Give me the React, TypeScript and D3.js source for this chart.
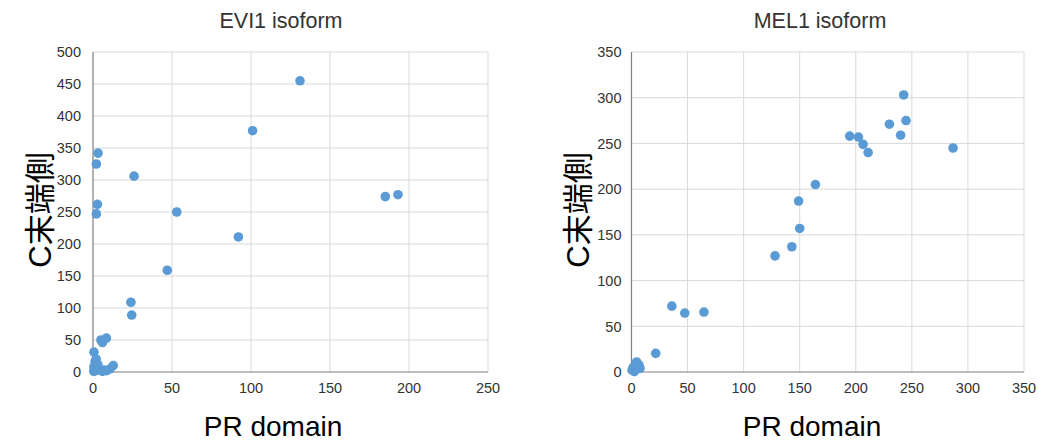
import React from "react";
import * as d3 from "d3";

const evi1PR = [131, 101, 26, 193, 185, 53, 92, 47, 24, 24.5, 3.2, 2.1, 2.8, 2.1, 8.5, 5, 6, 0.6, 12.8, 1.3, 0.6, 4.4, 8.7, 10.8, 2, 3, 1, 0.5, 6, 3.5, 7, 1.8];
const evi1C = [455, 377, 306, 277, 274, 250, 211, 159, 109, 89, 342, 325, 262, 247, 53, 50, 46, 31, 10, 16, 8, 3, 2, 5, 20, 12, 4, 1, 1, 6, 3, 2];

const mel1PR = [242.7, 244.8, 230, 240, 194.6, 202.4, 206.5, 211, 286.7, 164, 149, 150, 143, 128, 36, 47.5, 64.6, 21.6, 0.5, 4.6, 6.7, 3, 7.6, 1.5, 2.5];
const mel1C = [303, 275, 271, 259, 258, 257, 249, 240, 245, 205, 187, 157, 137, 127, 72, 64.5, 65.6, 20.4, 2, 11, 7.7, 2, 4, 5, 0.5];

const evi1XTicks = [0, 50, 100, 150, 200, 250];
const evi1YTicks = [0, 50, 100, 150, 200, 250, 300, 350, 400, 450, 500];
const mel1XTicks = [0, 50, 100, 150, 200, 250, 300, 350];
const mel1YTicks = [0, 50, 100, 150, 200, 250, 300, 350];

const titles = ["EVI1 isoform", "MEL1 isoform"];
const xTitle = "PR domain";
const yTitle = "C末端側";

const FONT = "'Liberation Sans', Arial, 'Noto Sans CJK JP', sans-serif";
const DOT = "#5b9bd5";

type PanelProps = {
  title: string;
  xs: number[];
  ys: number[];
  xTicks: number[];
  yTicks: number[];
  left: number;
  right: number;
  top: number;
  bottom: number;
  titleX: number;
  xTitleX: number;
  yTitleX: number;
  yLabelGap: number;
};

function Panel(p: PanelProps) {
  const x = d3
    .scaleLinear()
    .domain([0, p.xTicks[p.xTicks.length - 1]])
    .range([p.left, p.right]);
  const y = d3
    .scaleLinear()
    .domain([0, p.yTicks[p.yTicks.length - 1]])
    .range([p.bottom, p.top]);
  return (
    <g fontFamily={FONT}>
      {p.yTicks
        .filter((t) => t !== 0)
        .map((t) => (
          <line key={"gy" + t} x1={p.left} x2={p.right} y1={y(t)} y2={y(t)} stroke="#d9d9d9" strokeWidth={1} />
        ))}
      {p.xTicks
        .filter((t) => t !== 0)
        .map((t) => (
          <line key={"gx" + t} x1={x(t)} x2={x(t)} y1={p.top} y2={p.bottom} stroke="#d9d9d9" strokeWidth={1} />
        ))}
      <line x1={p.left} x2={p.left} y1={p.top} y2={p.bottom} stroke="#7f7f7f" strokeWidth={1.2} />
      <line x1={p.left} x2={p.right} y1={p.bottom} y2={p.bottom} stroke="#7f7f7f" strokeWidth={1.2} />
      {p.yTicks.map((t) => (
        <text key={"ty" + t} x={p.left - p.yLabelGap} y={y(t)} dy="0.36em" textAnchor="end" fontSize={14.5} fill="#333">
          {t}
        </text>
      ))}
      {p.xTicks.map((t) => (
        <text key={"tx" + t} x={x(t)} y={p.bottom + 21} textAnchor="middle" fontSize={14.5} fill="#333">
          {t}
        </text>
      ))}
      {p.xs.map((v, i) => (
        <circle key={"d" + i} cx={x(v)} cy={y(p.ys[i])} r={4.8} fill={DOT} />
      ))}
      <text x={p.titleX} y={28} textAnchor="middle" fontSize={21.5} fill="#333">
        {p.title}
      </text>
      <text x={p.xTitleX} y={436} textAnchor="middle" fontSize={28} fill="#000">
        {xTitle}
      </text>
      <text
        transform={`translate(${p.yTitleX},${(p.top + p.bottom) / 2 - 2}) rotate(-90)`}
        textAnchor="middle"
        dy="0.35em"
        fontSize={31}
        fill="#000"
      >
        {yTitle}
      </text>
    </g>
  );
}

export default function App() {
  return (
    <div style={{ position: "absolute", left: 0, top: 0, background: "#fff" }}>
      <svg width={1041} height={442} style={{ display: "block" }}>
        <rect width={1041} height={442} fill="#fff" />
        <Panel
          title={titles[0]}
          xs={evi1PR}
          ys={evi1C}
          xTicks={evi1XTicks}
          yTicks={evi1YTicks}
          left={93}
          right={488}
          top={52}
          bottom={372}
          titleX={281}
          xTitleX={273}
          yTitleX={40}
          yLabelGap={12}
        />
        <Panel
          title={titles[1]}
          xs={mel1PR}
          ys={mel1C}
          xTicks={mel1XTicks}
          yTicks={mel1YTicks}
          left={631.5}
          right={1024}
          top={52}
          bottom={372}
          titleX={820}
          xTitleX={812}
          yTitleX={578}
          yLabelGap={10}
        />
      </svg>
    </div>
  );
}
